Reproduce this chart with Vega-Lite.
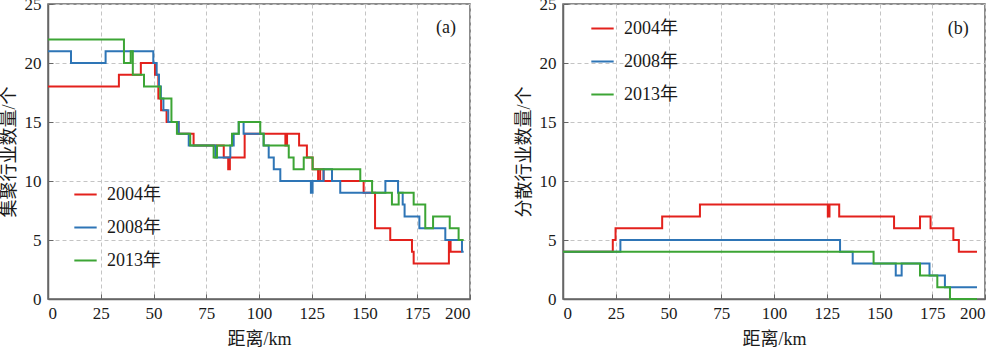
{
  "$schema": "https://vega.github.io/schema/vega-lite/v6.json",
  "padding": {"left": -1, "top": -6, "right": 12, "bottom": 0},
  "background": "white",
  "datasets": {
    "a": [
      {"series": "2004年", "x": 0, "y": 18}, {"series": "2004年", "x": 33.6, "y": 19}, {"series": "2004年", "x": 44, "y": 20},
      {"series": "2004年", "x": 50.7, "y": 19}, {"series": "2004年", "x": 52.3, "y": 17}, {"series": "2004年", "x": 53.6, "y": 16},
      {"series": "2004年", "x": 56.2, "y": 15}, {"series": "2004年", "x": 61.9, "y": 14}, {"series": "2004年", "x": 69, "y": 13},
      {"series": "2004年", "x": 83.3, "y": 12}, {"series": "2004年", "x": 85.4, "y": 11}, {"series": "2004年", "x": 86.2, "y": 12},
      {"series": "2004年", "x": 93.2, "y": 14}, {"series": "2004年", "x": 112.5, "y": 13}, {"series": "2004年", "x": 113.3, "y": 14},
      {"series": "2004年", "x": 119, "y": 13}, {"series": "2004年", "x": 122.7, "y": 12}, {"series": "2004年", "x": 125.4, "y": 11},
      {"series": "2004年", "x": 128, "y": 10}, {"series": "2004年", "x": 129, "y": 11}, {"series": "2004年", "x": 130.6, "y": 10},
      {"series": "2004年", "x": 149.6, "y": 9}, {"series": "2004年", "x": 155, "y": 6}, {"series": "2004年", "x": 162.2, "y": 5},
      {"series": "2004年", "x": 172.5, "y": 4}, {"series": "2004年", "x": 173.3, "y": 3}, {"series": "2004年", "x": 190, "y": 5},
      {"series": "2004年", "x": 190.8, "y": 4}, {"series": "2004年", "x": 196, "y": 4},
      {"series": "2008年", "x": 0, "y": 21}, {"series": "2008年", "x": 10.9, "y": 20}, {"series": "2008年", "x": 27.3, "y": 21},
      {"series": "2008年", "x": 49.9, "y": 20}, {"series": "2008年", "x": 51.5, "y": 19}, {"series": "2008年", "x": 52.6, "y": 18},
      {"series": "2008年", "x": 53.5, "y": 17}, {"series": "2008年", "x": 54.7, "y": 16}, {"series": "2008年", "x": 57, "y": 15},
      {"series": "2008年", "x": 61.9, "y": 14}, {"series": "2008年", "x": 66.7, "y": 13}, {"series": "2008年", "x": 79.3, "y": 12},
      {"series": "2008年", "x": 86.4, "y": 13}, {"series": "2008年", "x": 88, "y": 14}, {"series": "2008年", "x": 90.4, "y": 15},
      {"series": "2008年", "x": 92.7, "y": 14}, {"series": "2008年", "x": 102.2, "y": 13}, {"series": "2008年", "x": 104.6, "y": 12},
      {"series": "2008年", "x": 107, "y": 11}, {"series": "2008年", "x": 110.1, "y": 10}, {"series": "2008年", "x": 124.6, "y": 9},
      {"series": "2008年", "x": 125.4, "y": 10}, {"series": "2008年", "x": 130.6, "y": 11}, {"series": "2008年", "x": 134.6, "y": 10},
      {"series": "2008年", "x": 138.5, "y": 9}, {"series": "2008年", "x": 159.9, "y": 10}, {"series": "2008年", "x": 165.9, "y": 9},
      {"series": "2008年", "x": 168.1, "y": 8}, {"series": "2008年", "x": 169, "y": 7}, {"series": "2008年", "x": 176, "y": 6},
      {"series": "2008年", "x": 188.3, "y": 5}, {"series": "2008年", "x": 196.2, "y": 4}, {"series": "2008年", "x": 197, "y": 4},
      {"series": "2013年", "x": 0, "y": 22}, {"series": "2013年", "x": 36, "y": 20}, {"series": "2013年", "x": 39.2, "y": 21},
      {"series": "2013年", "x": 40.2, "y": 19}, {"series": "2013年", "x": 45.5, "y": 18}, {"series": "2013年", "x": 53.2, "y": 17},
      {"series": "2013年", "x": 58.5, "y": 15}, {"series": "2013年", "x": 61.1, "y": 14}, {"series": "2013年", "x": 67.4, "y": 13},
      {"series": "2013年", "x": 78.5, "y": 12}, {"series": "2013年", "x": 80.1, "y": 13}, {"series": "2013年", "x": 87.2, "y": 14},
      {"series": "2013年", "x": 90.4, "y": 15}, {"series": "2013年", "x": 100.6, "y": 14}, {"series": "2013年", "x": 102.2, "y": 13},
      {"series": "2013年", "x": 114.1, "y": 12}, {"series": "2013年", "x": 116.4, "y": 11}, {"series": "2013年", "x": 121.2, "y": 12},
      {"series": "2013年", "x": 125.4, "y": 11}, {"series": "2013年", "x": 148, "y": 10}, {"series": "2013年", "x": 153.6, "y": 9},
      {"series": "2013年", "x": 163, "y": 8}, {"series": "2013年", "x": 166.2, "y": 9}, {"series": "2013年", "x": 173.3, "y": 8},
      {"series": "2013年", "x": 178.8, "y": 6}, {"series": "2013年", "x": 182.5, "y": 7}, {"series": "2013年", "x": 190.4, "y": 6},
      {"series": "2013年", "x": 194.6, "y": 5}, {"series": "2013年", "x": 197, "y": 5}
    ],
    "b": [
      {"series": "2004年", "x": 0, "y": 4}, {"series": "2004年", "x": 23.6, "y": 5}, {"series": "2004年", "x": 24.9, "y": 6},
      {"series": "2004年", "x": 47, "y": 7}, {"series": "2004年", "x": 64.9, "y": 8}, {"series": "2004年", "x": 125.5, "y": 7},
      {"series": "2004年", "x": 126.3, "y": 8}, {"series": "2004年", "x": 130.9, "y": 7}, {"series": "2004年", "x": 156.9, "y": 6},
      {"series": "2004年", "x": 169.2, "y": 7}, {"series": "2004年", "x": 174.2, "y": 6}, {"series": "2004年", "x": 185, "y": 5},
      {"series": "2004年", "x": 187.6, "y": 4}, {"series": "2004年", "x": 196.2, "y": 4},
      {"series": "2008年", "x": 0, "y": 4}, {"series": "2008年", "x": 27.2, "y": 5}, {"series": "2008年", "x": 131.3, "y": 4},
      {"series": "2008年", "x": 137.3, "y": 3}, {"series": "2008年", "x": 157.7, "y": 2}, {"series": "2008年", "x": 160.5, "y": 3},
      {"series": "2008年", "x": 173.7, "y": 2}, {"series": "2008年", "x": 181, "y": 1}, {"series": "2008年", "x": 196.2, "y": 1},
      {"series": "2013年", "x": 0, "y": 4}, {"series": "2013年", "x": 147.2, "y": 3}, {"series": "2013年", "x": 169.2, "y": 2},
      {"series": "2013年", "x": 177.4, "y": 1}, {"series": "2013年", "x": 183.4, "y": 0}, {"series": "2013年", "x": 196.2, "y": 0}
    ]
  },
  "config": {
    "font": "Liberation Serif, Times New Roman, serif",
    "view": {"stroke": "#666666", "strokeWidth": 1.5},
    "axis": {
      "labelFont": "Liberation Serif, Times New Roman, serif", "labelFontSize": 17, "labelColor": "#1a1a1a",
      "titleFont": "Liberation Serif, Times New Roman, Noto Sans CJK SC, serif", "titleFontSize": 18, "titleFontWeight": "normal", "titleColor": "#1a1a1a",
      "domainColor": "#666666", "domainWidth": 1.5,
      "gridColor": "#c4c4c4", "gridDash": [4, 3], "gridWidth": 1,
      "tickColor": "#666666", "tickSize": -5, "tickWidth": 1,
      "labelPadding": 12
    },
    "legend": {
      "symbolType": "stroke", "symbolStrokeWidth": 2, "symbolSize": 500,
      "labelFont": "Liberation Serif, Times New Roman, Noto Sans CJK SC, serif", "labelFontSize": 18, "labelColor": "#1a1a1a",
      "rowPadding": 11, "labelOffset": 9, "padding": 0
    }
  },
  "spacing": 42,
  "resolve": {"scale": {"color": "independent"}, "legend": {"color": "independent"}},
  "hconcat": [
    {
      "width": 422, "height": 295,
      "layer": [
        {
          "data": {"name": "a"},
          "mark": {"type": "line", "interpolate": "step-after", "strokeWidth": 2},
          "encoding": {
            "x": {"field": "x", "type": "quantitative", "scale": {"domain": [0, 200], "nice": false},
                  "axis": {"values": [0, 25, 50, 75, 100, 125, 150, 175, 200], "title": "距离/km", "titlePadding": 9, "labelPadding": 11}},
            "y": {"field": "y", "type": "quantitative", "scale": {"domain": [0, 25], "nice": false},
                  "axis": {"values": [0, 5, 10, 15, 20, 25], "title": "集聚行业数量/个", "titlePadding": 6, "labelPadding": 12}},
            "color": {"field": "series", "type": "nominal",
                      "scale": {"domain": ["2004年", "2008年", "2013年"], "range": ["#e3211c", "#2e75b6", "#3ca535"]},
                      "legend": {"title": null, "orient": "none", "legendX": 25, "legendY": 178}}
          }
        },
        {
          "data": {"values": [{"label": "(a)", "x": 188.6, "y": 23}]},
          "mark": {"type": "text", "font": "Liberation Serif, Times New Roman, serif", "fontSize": 18, "color": "#1a1a1a"},
          "encoding": {
            "x": {"field": "x", "type": "quantitative"},
            "y": {"field": "y", "type": "quantitative"},
            "text": {"field": "label"}
          }
        }
      ]
    },
    {
      "width": 422, "height": 295,
      "layer": [
        {
          "data": {"name": "b"},
          "mark": {"type": "line", "interpolate": "step-after", "strokeWidth": 2},
          "encoding": {
            "x": {"field": "x", "type": "quantitative", "scale": {"domain": [0, 200], "nice": false},
                  "axis": {"values": [0, 25, 50, 75, 100, 125, 150, 175, 200], "title": "距离/km", "titlePadding": 9, "labelPadding": 11}},
            "y": {"field": "y", "type": "quantitative", "scale": {"domain": [0, 25], "nice": false},
                  "axis": {"values": [0, 5, 10, 15, 20, 25], "title": "分散行业数量/个", "titlePadding": 6, "labelPadding": 12}},
            "color": {"field": "series", "type": "nominal",
                      "scale": {"domain": ["2004年", "2008年", "2013年"], "range": ["#e3211c", "#2e75b6", "#3ca535"]},
                      "legend": {"title": null, "orient": "none", "legendX": 27, "legendY": 12}}
          }
        },
        {
          "data": {"values": [{"label": "(b)", "x": 187.3, "y": 22.9}]},
          "mark": {"type": "text", "font": "Liberation Serif, Times New Roman, serif", "fontSize": 18, "color": "#1a1a1a"},
          "encoding": {
            "x": {"field": "x", "type": "quantitative"},
            "y": {"field": "y", "type": "quantitative"},
            "text": {"field": "label"}
          }
        }
      ]
    }
  ]
}
